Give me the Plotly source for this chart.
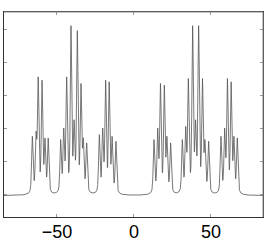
import numpy as np
import plotly.graph_objects as go

# Peak positions (x) and apparent peak heights
peak_pos = [-66.0, -63.6, -62.2, -59.7, -57.8, -55.7,
            -47.6, -45.6, -43.7, -40.9, -38.9, -36.8, -34.4, -32.9, -30.7,
            -22.5, -20.3, -18.4, -16.1, -14.2, -11.7,
            13.0, 15.4, 17.2, 19.7, 21.4, 23.8,
            31.4, 33.6, 35.3, 38.1, 40.0, 42.0, 44.5, 46.1, 48.5,
            56.5, 58.9, 60.7, 63.1, 64.9, 67.1]
peak_height = [0.35, 0.38, 0.71, 0.69, 0.34, 0.34,
               0.33, 0.40, 0.71, 1.02, 0.45, 0.99, 0.67, 0.34, 0.31,
               0.36, 0.40, 0.69, 0.68, 0.35, 0.32,
               0.33, 0.40, 0.67, 0.66, 0.35, 0.31,
               0.33, 0.41, 0.70, 1.02, 0.45, 1.02, 0.70, 0.33, 0.32,
               0.35, 0.40, 0.70, 0.68, 0.35, 0.34]
line_hwhm = 0.55
lorentz_fraction = 0.5
baseline_level = -0.01
x_span = [-85.0, 84.0]
x_ticks = [-50, 0, 50]
x_tick_text = ["\u221250", "0", "50"]
y_ticks = [0.0, 0.2, 0.4, 0.6, 0.8, 1.0]

P = np.array(peak_pos)
H = np.array(peak_height) - baseline_level


def shape(d):
    lor = 1.0 / (1.0 + (d / line_hwhm) ** 2)
    gau = np.exp(-np.log(2) * (d / line_hwhm) ** 2)
    return lorentz_fraction * lor + (1 - lorentz_fraction) * gau


amp = np.linalg.solve(shape(P[:, None] - P[None, :]), H)
x = np.linspace(x_span[0], x_span[1], 3381)
y = baseline_level + shape(x[:, None] - P[None, :]) @ amp

fig = go.Figure()
fig.add_trace(go.Scatter(x=x, y=y, mode="lines",
                         line=dict(color="#555555", width=0.8),
                         hoverinfo="skip", showlegend=False))

axis_common = dict(showgrid=False, zeroline=False, showline=True,
                   linecolor="#333333", linewidth=1, mirror="ticks",
                   ticks="inside", ticklen=3, tickcolor="#999999", tickwidth=1)

fig.update_layout(
    width=267, height=242,
    margin=dict(l=4, r=4, t=12, b=25, autoexpand=False),
    paper_bgcolor="white", plot_bgcolor="white",
    xaxis=dict(range=[-84.4, 83.8], tickvals=x_ticks, ticktext=x_tick_text,
               tickfont=dict(family="Liberation Sans, Arial", size=18, color="black"),
               ticklabelstandoff=-2,
               **axis_common),
    yaxis=dict(range=[-0.139, 1.103], tickvals=y_ticks, showticklabels=False,
               **axis_common),
)
fig.add_shape(type="line", xref="paper", yref="paper", x0=0, x1=1, y0=1, y1=1,
              line=dict(color="#888888", width=1))
fig.add_shape(type="line", xref="paper", yref="paper", x0=1, x1=1, y0=0, y1=1,
              line=dict(color="#888888", width=1))

fig.write_html("out.html", config={"displayModeBar": False},
               post_script="document.body.style.margin='0';")
